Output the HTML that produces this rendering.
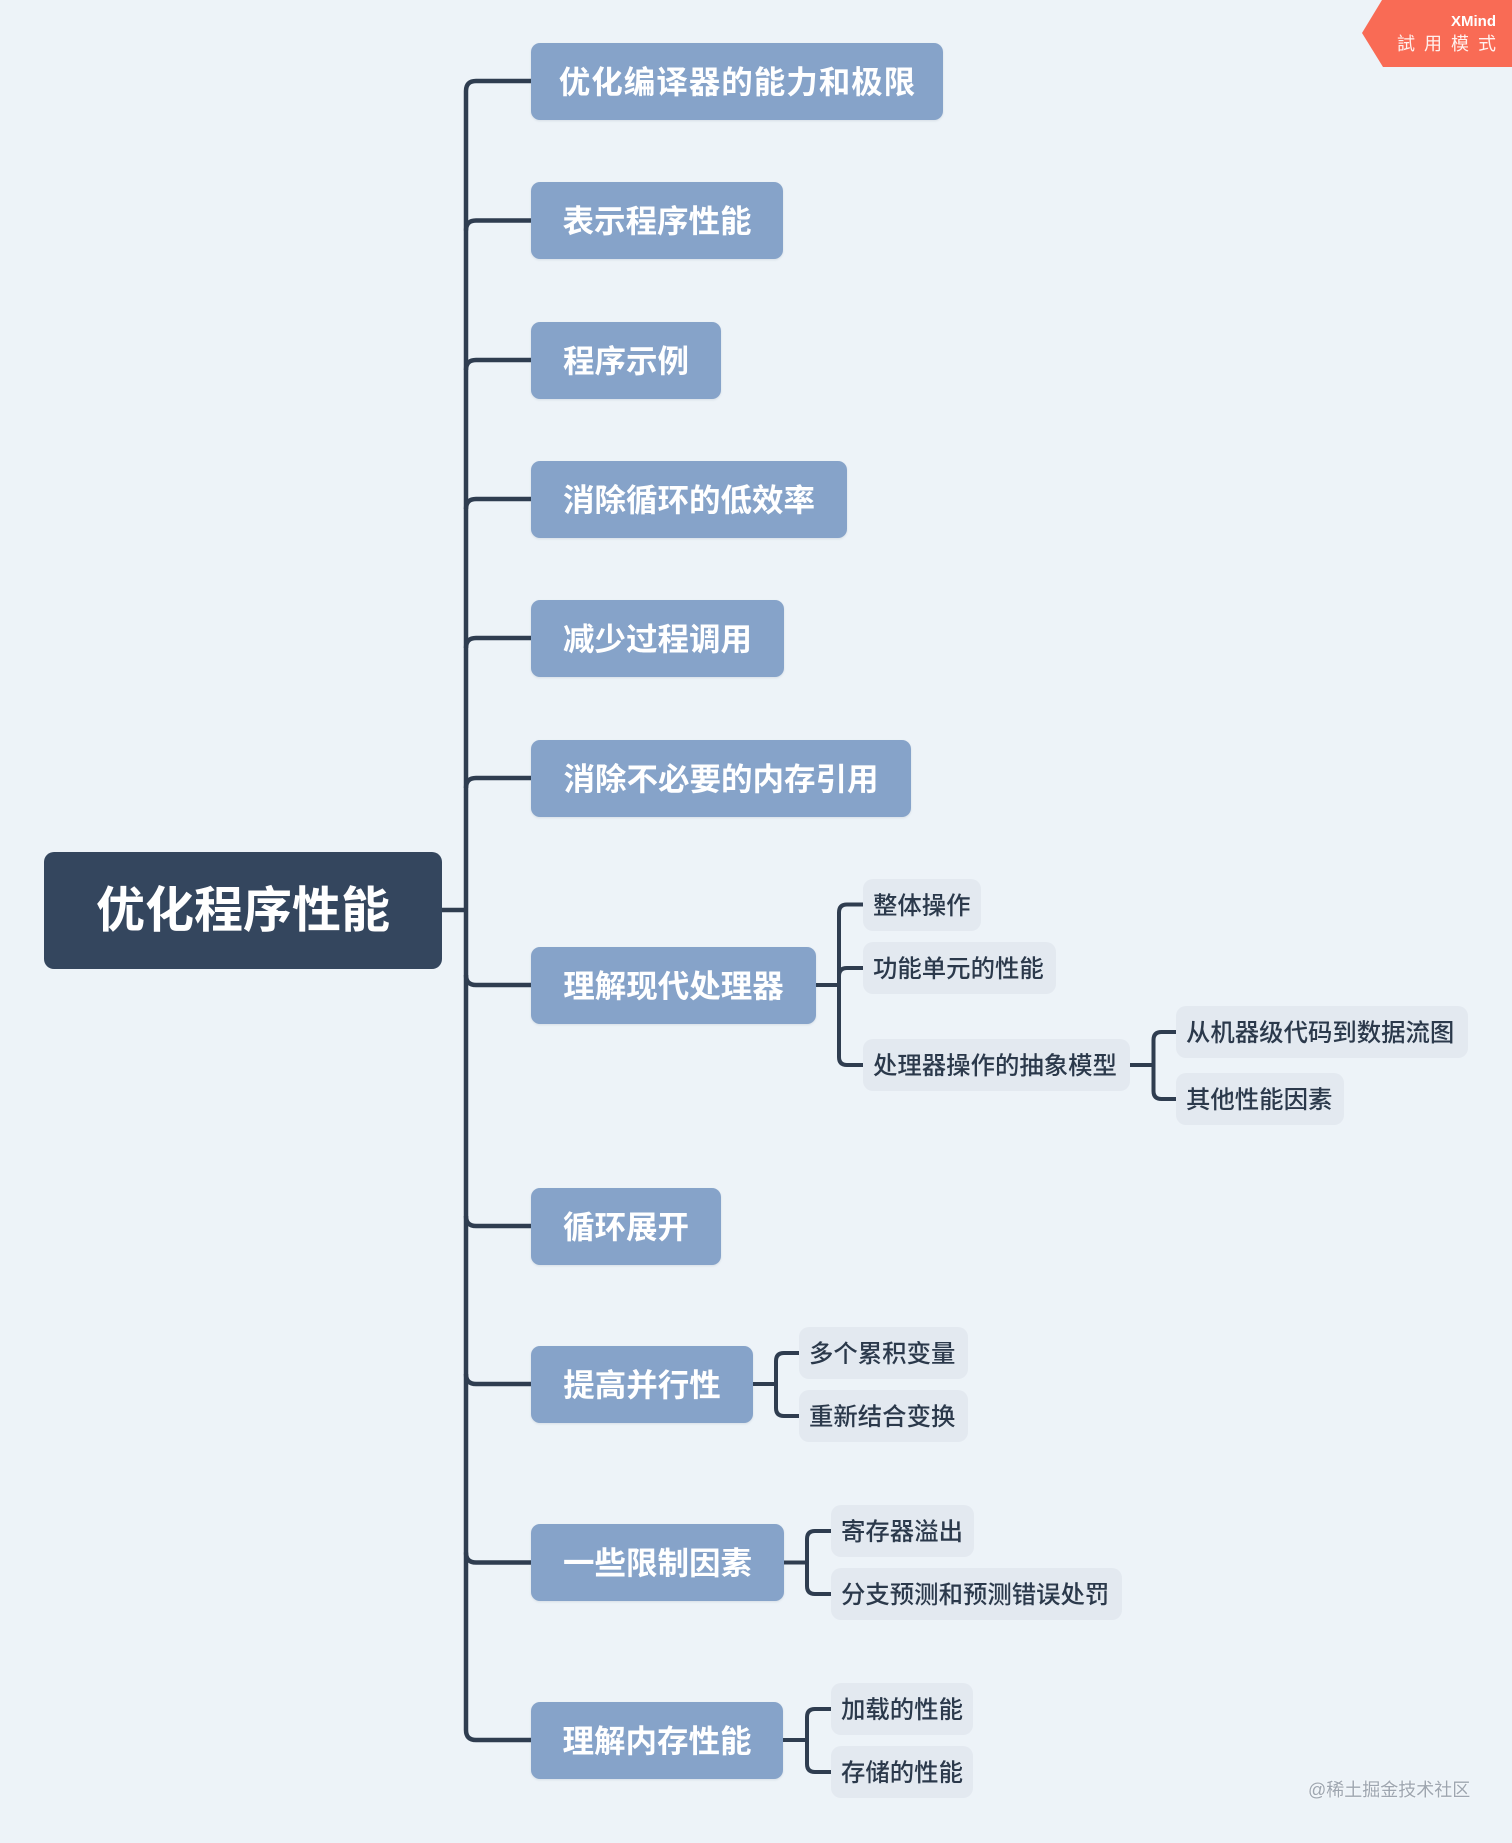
<!DOCTYPE html>
<html>
<head>
<meta charset="utf-8">
<style>
  html, body { margin:0; padding:0; }
  body {
    width:1512px; height:1843px; overflow:hidden;
    background:#edf3f8;
    position:relative;
    font-family:"Liberation Sans","Noto Sans CJK SC","WenQuanYi Zen Hei",sans-serif;
  }
  svg.lines { position:absolute; left:0; top:0; }
  .root {
    position:absolute; left:44px; top:852px; width:398px; height:117px;
    background:#34465e; border-radius:10px; color:#fff;
    font-size:49px; font-weight:bold; line-height:119px; text-align:center;
  }
  .l1 {
    position:absolute; left:531px; height:77px; line-height:78px;
    background:#86a3c9; border-radius:9px; color:#fff;
    font-size:31.5px; font-weight:bold; text-align:center; white-space:nowrap;
    box-shadow:0 1px 2px rgba(60,80,110,0.12);
  }
  .l2 {
    position:absolute; height:52px; line-height:55px;
    background:#e3e9f0; border-radius:10px; color:#2b394b;
    font-size:24.4px; font-weight:500; padding-left:10px; box-sizing:border-box; white-space:nowrap;
  }
  .badge { position:absolute; left:0; top:0; }
  .xm { position:absolute; right:16px; top:13px; font-size:15px; font-weight:bold; color:#fff; line-height:18px; }
  .try { position:absolute; left:1397px; top:33px; font-size:18px; color:#fff1ee; letter-spacing:9px; line-height:22px; white-space:nowrap; }
  .wm { position:absolute; left:1308px; top:1777px; font-size:18px; color:#9ea6b0; line-height:26px; white-space:nowrap; text-shadow:0 0 2px #fff; }
</style>
</head>
<body>

<svg class="lines" width="1512" height="1843" viewBox="0 0 1512 1843">
  <g fill="none" stroke="#2f3d50" stroke-width="4.5" stroke-linecap="butt">
    <path d="M442,910 L466,910"/>
    <path d="M466,91 L466,1730"/>
    <path d="M466,91 Q466,81 476,81 L531,81"/>
    <path d="M466,230.5 Q466,220.5 476,220.5 L531,220.5"/>
    <path d="M466,370 Q466,360 476,360 L531,360"/>
    <path d="M466,509 Q466,499 476,499 L531,499"/>
    <path d="M466,648 Q466,638 476,638 L531,638"/>
    <path d="M466,788 Q466,778 476,778 L531,778"/>
    <path d="M466,975 Q466,985 476,985 L531,985"/>
    <path d="M466,1216 Q466,1226 476,1226 L531,1226"/>
    <path d="M466,1374 Q466,1384 476,1384 L531,1384"/>
    <path d="M466,1552.5 Q466,1562.5 476,1562.5 L531,1562.5"/>
    <path d="M466,1730 Q466,1740 476,1740 L531,1740"/>
  </g>
  <g fill="none" stroke="#2f3d50" stroke-width="4" stroke-linecap="butt">
    <path d="M816,985 L839,985"/>
    <path d="M839,912.5 L839,1057"/>
    <path d="M839,912.5 Q839,904.5 847,904.5 L863,904.5"/>
    <path d="M839,976 Q839,968 847,968 L863,968"/>
    <path d="M839,1057 Q839,1065 847,1065 L863,1065"/>
    <path d="M1129.5,1065 L1153.5,1065"/>
    <path d="M1153.5,1040 L1153.5,1091"/>
    <path d="M1153.5,1040 Q1153.5,1032 1161.5,1032 L1176,1032"/>
    <path d="M1153.5,1091 Q1153.5,1099 1161.5,1099 L1176,1099"/>
    <path d="M753,1384 L776,1384"/>
    <path d="M776,1361 L776,1408"/>
    <path d="M776,1361 Q776,1353 784,1353 L799,1353"/>
    <path d="M776,1408 Q776,1416 784,1416 L799,1416"/>
    <path d="M783.5,1562.5 L807,1562.5"/>
    <path d="M807,1539 L807,1586"/>
    <path d="M807,1539 Q807,1531 815,1531 L831,1531"/>
    <path d="M807,1586 Q807,1594 815,1594 L831,1594"/>
    <path d="M783,1740 L807,1740"/>
    <path d="M807,1717 L807,1764"/>
    <path d="M807,1717 Q807,1709 815,1709 L831,1709"/>
    <path d="M807,1764 Q807,1772 815,1772 L831,1772"/>
  </g>
</svg>

<div class="root">优化程序性能</div>

<div class="l1" style="top:42.5px;width:412px;letter-spacing:1px;text-indent:1px;">优化编译器的能力和极限</div>
<div class="l1" style="top:182px;width:252px;">表示程序性能</div>
<div class="l1" style="top:321.5px;width:190px;">程序示例</div>
<div class="l1" style="top:460.5px;width:316px;">消除循环的低效率</div>
<div class="l1" style="top:599.5px;width:253px;">减少过程调用</div>
<div class="l1" style="top:739.5px;width:380px;">消除不必要的内存引用</div>
<div class="l1" style="top:946.5px;width:285px;">理解现代处理器</div>
<div class="l1" style="top:1187.5px;width:190px;">循环展开</div>
<div class="l1" style="top:1345.5px;width:222px;">提高并行性</div>
<div class="l1" style="top:1524px;width:253px;">一些限制因素</div>
<div class="l1" style="top:1701.5px;width:252px;">理解内存性能</div>

<div class="l2" style="left:863px;top:878.5px;width:118px;">整体操作</div>
<div class="l2" style="left:863px;top:942px;width:193px;">功能单元的性能</div>
<div class="l2" style="left:863px;top:1039px;width:267px;">处理器操作的抽象模型</div>
<div class="l2" style="left:1176px;top:1006px;width:292px;">从机器级代码到数据流图</div>
<div class="l2" style="left:1176px;top:1073px;width:168px;">其他性能因素</div>

<div class="l2" style="left:799px;top:1327px;width:169px;">多个累积变量</div>
<div class="l2" style="left:799px;top:1390px;width:169px;">重新结合变换</div>

<div class="l2" style="left:831px;top:1505px;width:143px;">寄存器溢出</div>
<div class="l2" style="left:831px;top:1568px;width:291px;">分支预测和预测错误处罚</div>

<div class="l2" style="left:831px;top:1683px;width:142px;">加载的性能</div>
<div class="l2" style="left:831px;top:1746px;width:142px;">存储的性能</div>

<svg class="badge" width="1512" height="70" viewBox="0 0 1512 70">
  <polygon points="1382,0 1512,0 1512,67 1383,67 1362,33" fill="#f96b55"/>
</svg>
<div class="xm">XMind</div>
<div class="try">試用模式</div>

<div class="wm">@稀土掘金技术社区</div>

</body>
</html>
